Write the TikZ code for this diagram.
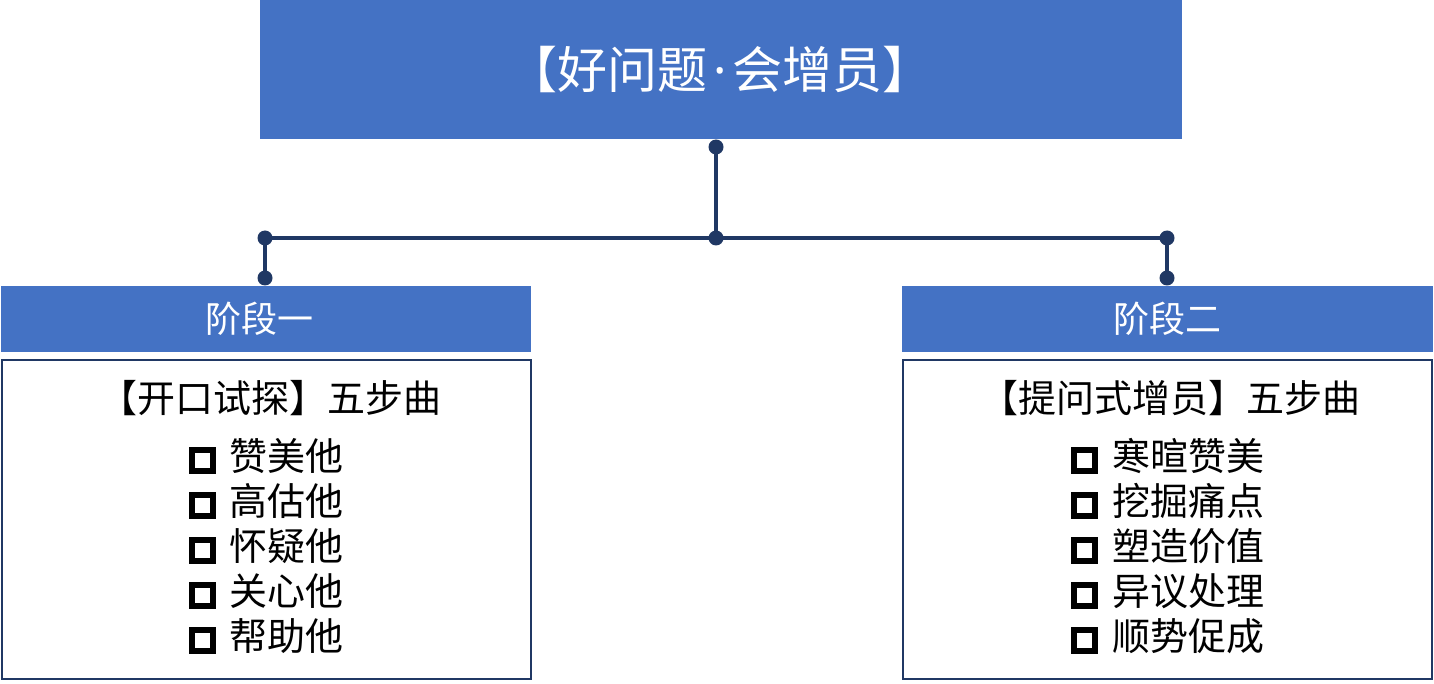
\documentclass[tikz,border=0pt]{standalone}
\usepackage{fontspec}
\setmainfont{Noto Sans CJK SC}
\newfontfamily\latinfont{Noto Sans}
\usetikzlibrary{positioning}
\definecolor{boxblue}{HTML}{4472C4}
\definecolor{linenavy}{HTML}{203864}
\newcommand{\sqbox}{\raisebox{2pt}{\setlength{\fboxsep}{0pt}\setlength{\fboxrule}{6pt}\fbox{\rule{0pt}{15pt}\hspace{15pt}}}}

\begin{document}
\begin{tikzpicture}[x=1pt,y=-1pt]
\tikzset{titlebox/.style={fill=boxblue, text=white, inner sep=0pt}}
\tikzset{stagebox/.style={fill=boxblue, text=white, inner sep=0pt, minimum height=66pt, font=\fontsize{36}{40}\selectfont}}
\tikzset{listbox/.style={draw=linenavy, line width=2pt, fill=white, inner sep=0pt, minimum width=529pt, minimum height=319pt}}
\tikzset{link/.style={draw=linenavy, line width=3.5pt}}
\tikzset{itemtext/.style={align=left, inner sep=0pt, font=\fontsize{38}{45}\selectfont}}
\useasboundingbox (0,0) rectangle (1434,684);
				\node[titlebox, minimum width=922pt, minimum height=139pt] (title) at (721,69.5) {};
				\node[titlebox, font=\fontsize{50}{55}\selectfont] at (720,70) {【好问题\hspace{6pt}{\latinfont·}\hspace{6pt}会增员】};
				\node[stagebox, minimum width=530pt] (stage-one) at (266,319) {};
				\node[stagebox, text=white] at (259,319) {阶段一};
				\node[stagebox, minimum width=531pt] (stage-two) at (1167.5,319) {阶段二};
				\node[listbox] (list-one) at (266.5,519.5) {};
				\node[listbox] (list-two) at (1167.5,519.5) {};
				\node[itemtext] (head-one) at (270,398) {【开口试探】五步曲};
				\node[itemtext] (head-two) at (1170,398) {【提问式增员】五步曲};
				\node[itemtext] (steps-one) at (266,546) {\sqbox\hspace{14pt}赞美他\\ \sqbox\hspace{14pt}高估他\\ \sqbox\hspace{14pt}怀疑他\\ \sqbox\hspace{14pt}关心他\\ \sqbox\hspace{14pt}帮助他};
				\node[itemtext] (steps-two) at (1167.5,546) {\sqbox\hspace{14pt}寒暄赞美\\ \sqbox\hspace{14pt}挖掘痛点\\ \sqbox\hspace{14pt}塑造价值\\ \sqbox\hspace{14pt}异议处理\\ \sqbox\hspace{14pt}顺势促成};
				% connectors
				\coordinate (title-end) at (716,147);
				\coordinate (fork) at (716,238);
				\coordinate (one-bend) at (265,238);
				\coordinate (one-end) at (265,278);
				\coordinate (two-bend) at (1167,238);
				\coordinate (two-end) at (1167,278);
				\draw[link] (title-end) -- (fork);
				\draw[link] (one-end) -- (one-bend) -- (two-bend) -- (two-end);
				\foreach \p in {title-end,fork,one-bend,one-end,two-bend,two-end}
					\fill[linenavy] (\p) circle (7.5pt);
\end{tikzpicture}
\end{document}
